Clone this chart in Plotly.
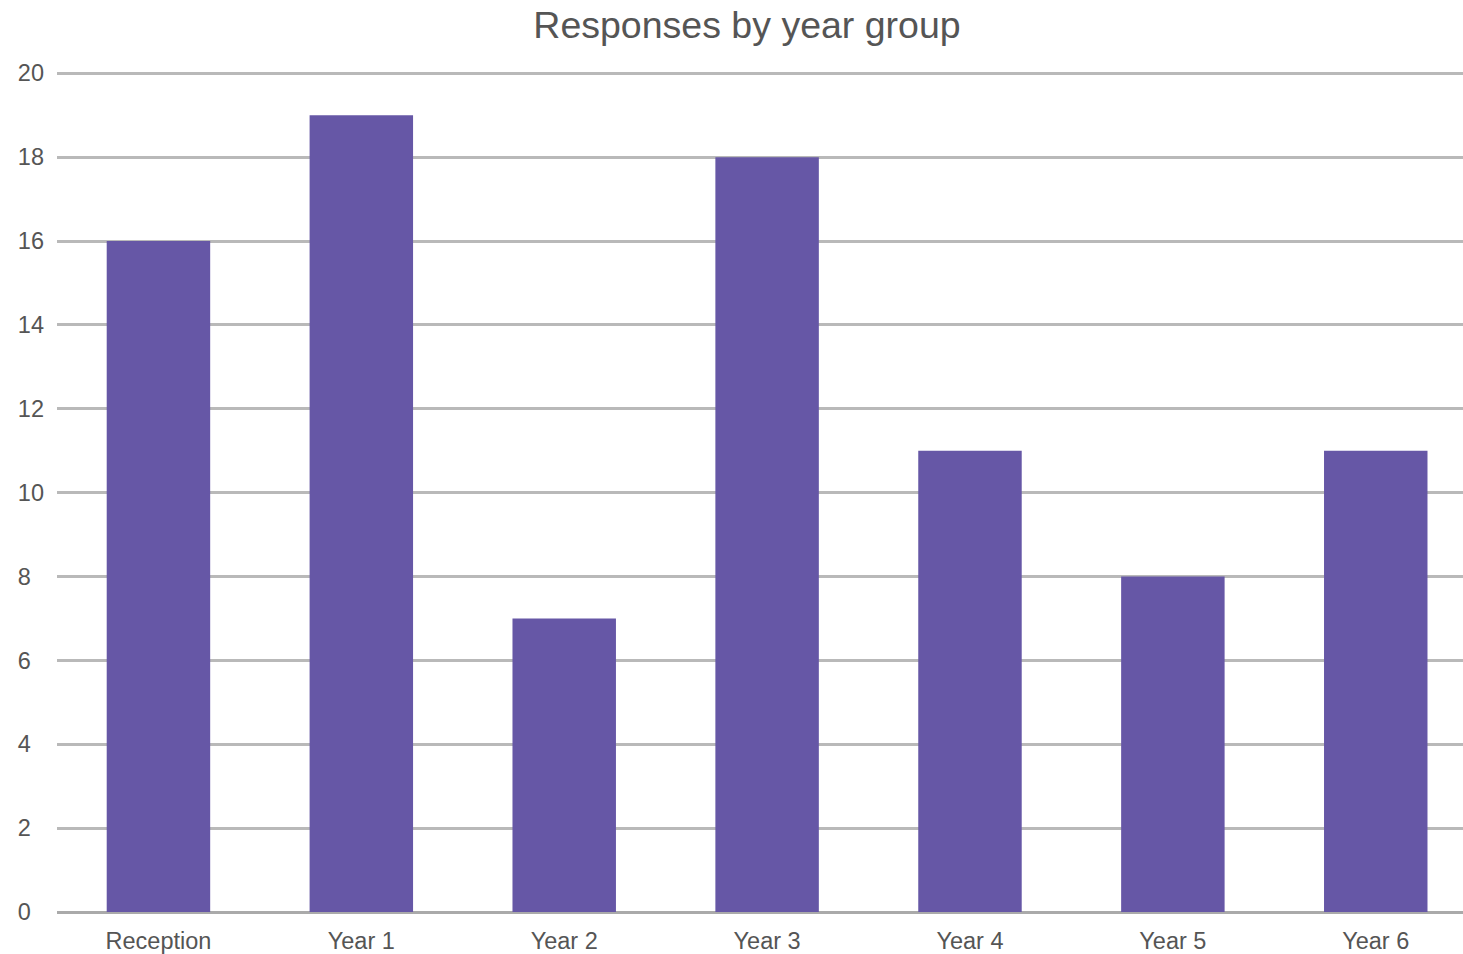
import plotly.graph_objects as go

categories = ["Reception", "Year 1", "Year 2", "Year 3", "Year 4", "Year 5", "Year 6"]
responses = [16, 19, 7, 18, 11, 8, 11]
tick_values = [0, 2, 4, 6, 8, 10, 12, 14, 16, 18, 20]
tick_labels = [str(v) + "\u00a0\u00a0" if v < 10 else str(v) for v in tick_values]

fig = go.Figure(
    go.Bar(
        x=list(range(len(categories))),
        y=responses,
        marker=dict(color="#6657a6", line=dict(width=0)),
        width=0.51,
    )
)

fig.update_layout(
    width=1463,
    height=954,
    margin=dict(l=57, r=0, t=72, b=42),
    paper_bgcolor="white",
    plot_bgcolor="white",
    showlegend=False,
    font=dict(family="Liberation Sans, Arial, sans-serif", color="#555555"),
    title=dict(
        text="Responses by year group",
        font=dict(size=37.5, color="#555555"),
        x=747 / 1463,
        xref="container",
        xanchor="center",
        y=1 - 25 / 954,
        yref="container",
        yanchor="middle",
    ),
    xaxis=dict(
        tickmode="array",
        tickvals=list(range(len(categories))),
        ticktext=categories,
        range=[-0.5, 6.43],
        showgrid=False,
        zeroline=False,
        showline=False,
        ticks="",
        tickfont=dict(size=23.5, color="#555555"),
        ticklabelstandoff=12,
    ),
    yaxis=dict(
        range=[0, 20.03],
        tickmode="array",
        tickvals=tick_values,
        ticktext=tick_labels,
        showgrid=True,
        gridcolor="#b9b9b9",
        gridwidth=2.5,
        zeroline=True,
        zerolinecolor="#aaaaaa",
        zerolinewidth=2.5,
        showline=False,
        ticks="",
        tickfont=dict(size=23.5, color="#555555"),
        ticklabelstandoff=12,
    ),
)

fig.write_html("out.html")
